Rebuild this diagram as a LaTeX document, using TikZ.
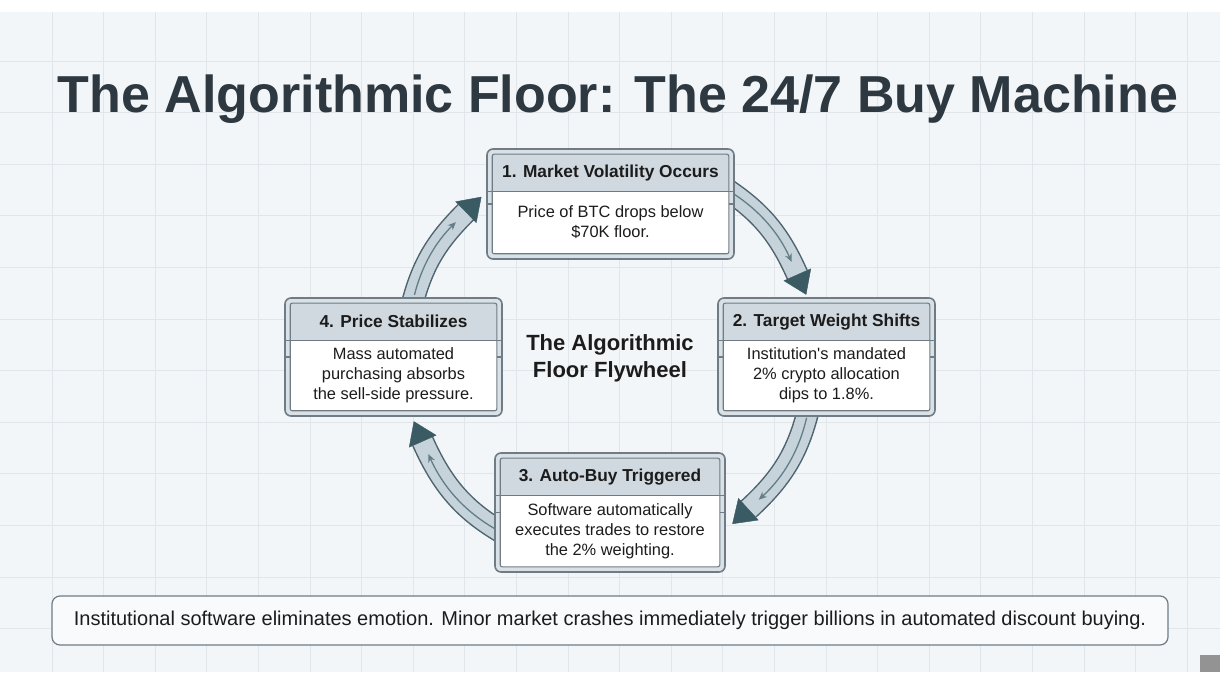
\documentclass[tikz,border=0pt]{standalone}
\usepackage{fontspec}
\setmainfont{Liberation Sans}
\setsansfont{Liberation Sans}
\definecolor{Bgcol}{HTML}{F3F6F8}
\definecolor{Gridcol}{HTML}{E1E6EA}
\definecolor{Titlecol}{HTML}{2E3840}
\definecolor{Textcol}{HTML}{1C1C1C}
\definecolor{Cardline}{HTML}{6F7C85}
\definecolor{Cardfill}{HTML}{D9E1E7}
\definecolor{Headcol}{HTML}{D0D9E0}
\definecolor{Bandfill}{HTML}{C6D3DB}
\definecolor{Bandline}{HTML}{4E6470}
\definecolor{Tipcol}{HTML}{3A5A64}
\definecolor{Thincol}{HTML}{637E88}
\definecolor{Notefill}{HTML}{F8FAFB}
\usetikzlibrary{calc, arrows.meta, positioning}
\pgfdeclarelayer{bg}
\pgfdeclarelayer{flow}
\pgfsetlayers{bg,flow,main}
\tikzset{
    >=Stealth,
    font=\sffamily,
    title/.style={font=\fontsize{52}{60}\selectfont\bfseries, text=Titlecol},
    card/.style={draw=Cardline, line width=1.6pt, fill=Cardfill, rounded corners=6pt, inner sep=0pt},
    cardline/.style={draw=Cardline, line width=1.1pt},
    cardhead/.style={font=\fontsize{17.3}{20}\selectfont\bfseries, text=Textcol},
    cardbody/.style={font=\fontsize{16.4}{20}\selectfont, text=Textcol, align=center},
    hubtext/.style={font=\fontsize{22}{27}\selectfont\bfseries, text=Textcol, align=center},
    note/.style={draw=Cardline, line width=1.2pt, fill=Notefill, rounded corners=8pt,
        minimum width=1116pt, minimum height=49pt, font=\fontsize{20}{24}\selectfont, text=Textcol},
    band/.style={draw=Bandfill, line width=20pt, preaction={draw=Bandline, line width=23pt}},
    thinarrow/.style={draw=Thincol, line width=1.3pt, -{Stealth[length=8pt, width=7pt]},
        shorten <=14pt, shorten >=14pt},
    bighead/.style={draw=Tipcol, line width=0.4pt, -{Triangle[length=22pt, width=30pt]}}
}
% card: name, x, y, width, height, heading, text
\newcommand{\flowcard}[7]{%
    \node[card, minimum width=#4pt, minimum height=#5pt] (#1) at (#2,#3) {};
    \fill[Headcol] ([shift={(6pt,-6pt)}]#1.north west) rectangle ([shift={(-6pt,-43pt)}]#1.north east);
    \fill[white] ([shift={(6pt,-43pt)}]#1.north west) rectangle ([shift={(-6pt,6pt)}]#1.south east);
    \draw[cardline, rounded corners=2pt] ([shift={(6pt,-6pt)}]#1.north west) rectangle ([shift={(-6pt,6pt)}]#1.south east);
    \draw[cardline] ([yshift=-43pt]#1.north west) -- ([yshift=-43pt]#1.north east);
    \draw[cardline] (#1.west) -- ++(6pt,0);
    \draw[cardline] (#1.east) -- ++(-6pt,0);
    \node[cardhead] at ([yshift=-24.5pt]#1.north) {#6};
    \node[cardbody] at ($([yshift=-43pt]#1.north)!0.5!([yshift=6pt]#1.south)$) {#7};
}

\begin{document}
\begin{tikzpicture}[x=1pt, y=1pt]
    % Canvas
    \useasboundingbox (0,0) rectangle (1220,672);
    \begin{pgfonlayer}{bg}
        \fill[white] (0,0) rectangle (1220,672);
        \fill[Bgcol] (0,0) rectangle (1220,660);
        \foreach \gx in {0,...,22}
            \draw[Gridcol, line width=0.8pt] (52+51.6*\gx,0) -- (52+51.6*\gx,660);
        \foreach \gy in {0,...,11}
            \draw[Gridcol, line width=0.8pt] (0,611-51.6*\gy) -- (1220,611-51.6*\gy);
    \end{pgfonlayer}

    % Title
    \node[title, anchor=base] (title) at (618,559) {The Algorithmic Floor: The 24/7 Buy Machine};

    % Cards
    \flowcard{mvol}{610.5}{468}{247}{110}{1. Market Volatility Occurs}{Price of BTC drops below\\\$70K floor.}
    \flowcard{tws}{826.5}{315}{217}{118}{2. Target Weight Shifts}{Institution\textquotesingle s mandated\\2\% crypto allocation\\dips to 1.8\%.}
    \flowcard{abuy}{610}{159.5}{230}{119}{3. Auto-Buy Triggered}{Software automatically\\executes trades to restore\\the 2\% weighting.}
    \flowcard{pstab}{393.5}{315}{217}{118}{4. Price Stabilizes}{Mass automated\\purchasing absorbs\\the sell-side pressure.}

    % Hub label
    \node[hubtext] (hub) at (610,314) {The Algorithmic\\Floor Flywheel};

    % Flywheel arrows (ring round the hub)
    \def\ringR{205}
    \begin{pgfonlayer}{flow}
        \coordinate (s1) at ($(hub)+(57:\ringR)$);
        \coordinate (h1) at ($(hub)+(24:\ringR)$);
        \coordinate (e1) at ($(h1)+(-66:22)$);
        \draw[band] (s1) to[out=-33, in=114] (h1);
        \draw[thinarrow] (s1) to[out=-33, in=114] (h1);
        \draw[bighead] (h1) -- (e1);

        \coordinate (s2) at ($(hub)+(-13:\ringR)$);
        \coordinate (h2) at ($(hub)+(-47.5:\ringR)$);
        \coordinate (e2) at ($(h2)+(-137.5:22)$);
        \draw[band] (s2) to[out=-103, in=42.5] (h2);
        \draw[thinarrow] (s2) to[out=-103, in=42.5] (h2);
        \draw[bighead] (h2) -- (e2);

        \coordinate (s3) at ($(hub)+(-118:\ringR)$);
        \coordinate (h3) at ($(hub)+(-156:\ringR)$);
        \coordinate (e3) at ($(h3)+(114:22)$);
        \draw[band] (s3) to[out=152, in=-66] (h3);
        \draw[thinarrow] (s3) to[out=152, in=-66] (h3);
        \draw[bighead] (h3) -- (e3);

        \coordinate (s4) at ($(hub)+(166:\ringR)$);
        \coordinate (h4) at ($(hub)+(134.7:\ringR)$);
        \coordinate (e4) at ($(h4)+(44.7:22)$);
        \draw[band] (s4) to[out=76, in=-135.3] (h4);
        \draw[thinarrow] (s4) to[out=76, in=-135.3] (h4);
        \draw[bighead] (h4) -- (e4);
    \end{pgfonlayer}

    % Bottom note
    \node[note] (note) at (610,51.5) {Institutional software eliminates emotion. Minor market crashes immediately trigger billions in automated discount buying.};

    % Corner mark
    \fill[gray!85] (1200,0) rectangle (1220,17);
\end{tikzpicture}
\end{document}
